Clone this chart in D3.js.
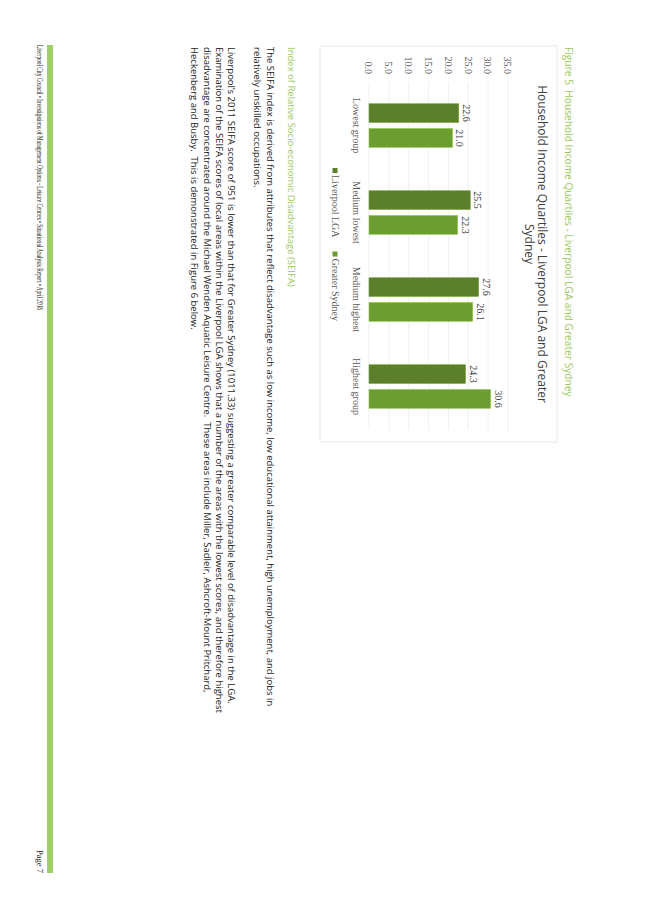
<!DOCTYPE html>
<html>
<head>
<meta charset="utf-8">
<script src="https://cdn.jsdelivr.net/npm/d3@7"></script>
<style>
  body { margin: 0; background: #fff; }
  text { white-space: pre; }
</style>
</head>
<body>
<svg id="page" width="653" height="924"></svg>
<script>
// chart data
var categories = ["Lowest group", "Medium lowest", "Medium highest", "Highest group"];
var seriesNames = ["Liverpool LGA", "Greater Sydney"];
var liverpoolValues = [22.6, 25.5, 27.6, 24.3];
var sydneyValues = [21.0, 22.3, 26.1, 30.6];
var yTicks = [0, 5, 10, 15, 20, 25, 30, 35];
var seriesColors = ["#5b7f2b", "#6b9d31"];

// page text
var captionText = "Figure 5  Household Income Quartiles - Liverpool LGA and Greater Sydney";
var titleLines = ["Household Income Quartiles - Liverpool LGA and Greater", "Sydney"];
var headingText = "Index of Relative Socio-economic Disadvantage (SEIFA)";
var bodyLines = [
    "The SEIFA index is derived from attributes that reflect disadvantage such as low income, low educational attainment, high unemployment, and jobs in",
    "relatively unskilled occupations.",
    "",
    "Liverpool\u2019s 2011 SEIFA score of 951 is lower than that for Greater Sydney (1011.33) suggesting a greater comparable level of disadvantage in the LGA.",
    "Examination of the SEIFA scores of local areas within the Liverpool LGA shows that a number of the areas with the lowest scores, and therefore highest",
    "disadvantage are concentrated around the Michael Wenden Aquatic Leisure Centre.  These areas include Miller, Sadleir, Ashcroft-Mount Pritchard,",
    "Heckenberg and Busby.  This is demonstrated in Figure 6 below."
];
var footerText = "Liverpool City Council \u2022 Investigations of Management Options - Leisure Centres \u2022 Situational Analysis Report \u2022 April 2018";
var pageText = "Page 7";

var GREEN = "#9bc95c";
var SANS = "'Open Sans', 'Noto Sans', sans-serif";
var SERIF = "'Liberation Serif', serif";

// the page is printed sideways: draw it landscape, then turn it
var svg = d3.select("#page");
var page = svg.append("g").attr("transform", "translate(653,0) rotate(90)");

page.append("text")
    .attr("x", 47).attr("y", 88)
    .attr("font-family", SANS).attr("font-size", 10.2)
    .attr("fill", GREEN)
    .text(captionText);

// chart area
page.append("rect")
    .attr("x", 46).attr("y", 96)
    .attr("width", 396).attr("height", 237)
    .attr("fill", "none").attr("stroke", "#e3e3e3").attr("stroke-width", 0.8);

page.selectAll("text.title").data(titleLines).enter()
    .append("text").attr("class", "title")
    .attr("x", 244)
    .attr("y", function(d, i) { return 115 + i * 13; })
    .attr("text-anchor", "middle")
    .attr("font-family", SANS).attr("font-size", 12)
    .attr("fill", "#404040")
    .text(function(d) { return d; });

var x0 = d3.scaleBand().domain(categories).range([82, 430])
    .paddingInner(0.5).paddingOuter(0.25);
var x1 = d3.scaleBand().domain(seriesNames).range([0, x0.bandwidth()])
    .paddingInner(0.25);
var y = d3.scaleLinear().domain([0, 35]).range([284, 145]);

page.selectAll("line.grid").data(yTicks).enter()
    .append("line").attr("class", "grid")
    .attr("x1", 82).attr("x2", 430)
    .attr("y1", function(d) { return y(d); })
    .attr("y2", function(d) { return y(d); })
    .attr("stroke", "#e6e6e6").attr("stroke-width", 0.6);

var yAxis = page.append("g")
    .attr("transform", "translate(74,0)")
    .call(d3.axisLeft(y).tickValues(yTicks).tickSize(0).tickPadding(0)
        .tickFormat(d3.format(".1f")));
yAxis.select(".domain").remove();
yAxis.selectAll("text")
    .attr("font-family", SERIF).attr("font-size", 10).attr("fill", "#595959");

var rows = categories.map(function(c, i) {
    return [
        {cat: c, name: seriesNames[0], value: liverpoolValues[i], color: seriesColors[0]},
        {cat: c, name: seriesNames[1], value: sydneyValues[i], color: seriesColors[1]}
    ];
});

var groups = page.selectAll("g.cat").data(rows).enter()
    .append("g").attr("class", "cat")
    .attr("transform", function(d) { return "translate(" + x0(d[0].cat) + ",0)"; });

groups.selectAll("rect").data(function(d) { return d; }).enter()
    .append("rect")
    .attr("x", function(d) { return x1(d.name); })
    .attr("y", function(d) { return y(d.value); })
    .attr("width", x1.bandwidth())
    .attr("height", function(d) { return y(0) - y(d.value); })
    .attr("fill", function(d) { return d.color; })
    .attr("stroke", function(d) { return d3.color(d.color).brighter(0.6); })
    .attr("stroke-width", 0.6);

groups.selectAll("text").data(function(d) { return d; }).enter()
    .append("text")
    .attr("x", function(d) { return x1(d.name) + x1.bandwidth() / 2; })
    .attr("y", function(d) { return y(d.value) - 4; })
    .attr("text-anchor", "middle")
    .attr("font-family", SERIF).attr("font-size", 10).attr("fill", "#404040")
    .text(function(d) { return d.value.toFixed(1); });

page.selectAll("text.cat").data(categories).enter()
    .append("text").attr("class", "cat")
    .attr("x", function(d) { return x0(d) + x0.bandwidth() / 2; })
    .attr("y", 300)
    .attr("text-anchor", "middle")
    .attr("font-family", SERIF).attr("font-size", 10).attr("fill", "#595959")
    .text(function(d) { return d; });

// legend
var legend = page.append("g");
var lx = 168;
seriesNames.forEach(function(name, i) {
    legend.append("rect")
        .attr("x", lx).attr("y", 315.5)
        .attr("width", 5).attr("height", 5)
        .attr("fill", seriesColors[i]);
    var t = legend.append("text")
        .attr("x", lx + 7).attr("y", 321)
        .attr("font-family", SERIF).attr("font-size", 10).attr("fill", "#595959")
        .text(name);
    lx += 7 + t.node().getComputedTextLength() + 14;
});

// body text
page.append("text")
    .attr("x", 47).attr("y", 365)
    .attr("font-family", SANS).attr("font-size", 9.5)
    .attr("fill", GREEN)
    .text(headingText);

var bodyY = [386, 399, 0, 425, 437, 449, 462];
page.selectAll("text.body").data(bodyLines).enter()
    .append("text").attr("class", "body")
    .attr("x", 47)
    .attr("y", function(d, i) { return bodyY[i]; })
    .attr("font-family", SANS).attr("font-size", 9.5)
    .attr("fill", "#1a1a1a")
    .text(function(d) { return d; });

// footer
page.append("rect")
    .attr("x", 45).attr("y", 600)
    .attr("width", 828).attr("height", 6)
    .attr("fill", "#9dd065");

page.append("text")
    .attr("x", 45).attr("y", 616)
    .attr("font-family", SERIF).attr("font-size", 8.5)
    .attr("textLength", 265).attr("lengthAdjust", "spacingAndGlyphs")
    .attr("fill", "#222")
    .text(footerText);

page.append("text")
    .attr("x", 873).attr("y", 616)
    .attr("text-anchor", "end")
    .attr("font-family", SERIF).attr("font-size", 8.5)
    .attr("fill", "#222")
    .text(pageText);
</script>
</body>
</html>
